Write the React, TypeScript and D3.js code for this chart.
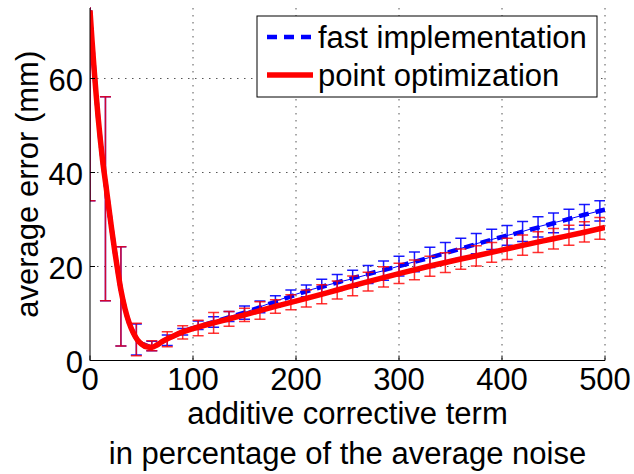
import React from 'react';
import * as d3 from 'd3';

// Positions where the error bars are sampled (percentage of the average noise)
const barX = [0, 15, 30, 45, 60, 75, 90, 105, 120, 135, 150, 165, 180, 195, 210, 225, 240, 255, 270, 285, 300, 315, 330, 345, 360, 375, 390, 405, 420, 435, 450, 465, 480, 495];

// fast implementation: mean error and standard deviation at barX
const fastMean = [74, 34.4, 13.65, 4.45, 3.1, 4.3, 6.1, 7.5, 8.2, 9.35, 10.2, 11.4, 12.6, 13.75, 14.8, 15.7, 16.6, 17.4, 18.3, 19.1, 20.1, 21.0, 21.95, 22.95, 23.85, 24.85, 25.75, 26.6, 27.45, 28.45, 29.3, 30.1, 31.0, 31.85];
const fastSd = [40, 21.7, 10.55, 3.3, 1.0, 1.1, 0.7, 0.9, 1.1, 1.05, 1.4, 1.25, 1.2, 1.25, 1.25, 1.6, 1.7, 1.8, 1.9, 2.05, 2.1, 2.1, 2.15, 2.15, 2.15, 2.15, 2.15, 2.1, 2.15, 2.15, 2.1, 2.1, 2.2, 2.15];

// point optimization: mean error and standard deviation at barX
const pointMean = [74, 34.4, 13.65, 4.45, 3.15, 4.5, 6.0, 6.9, 8.0, 8.85, 9.7, 10.65, 11.5, 12.4, 13.2, 14.1, 15.0, 15.9, 16.8, 17.8, 18.55, 19.3, 20.05, 20.8, 21.55, 22.25, 23.0, 23.75, 24.55, 25.2, 25.9, 26.65, 27.35, 28.1];
const pointSd = [40, 21.7, 10.55, 3.45, 1.05, 1.6, 1.4, 1.65, 2.2, 1.55, 1.4, 1.85, 1.45, 1.6, 1.8, 2.0, 1.9, 2.1, 2.0, 2.15, 2.15, 2.1, 2.15, 2.1, 2.15, 2.15, 2.1, 2.25, 2.15, 2.2, 2.2, 2.15, 2.15, 2.3];

// Finely sampled average-error curves
const curveX = [0, 2, 4, 6, 8, 10, 12, 15, 18, 21, 24, 27, 30, 34, 38, 42, 46, 50, 55, 60, 65, 70, 80, 90, 100, 120, 150, 180, 210, 240, 270, 300, 330, 360, 390, 420, 450, 480, 500];
const fastCurve = [74.5, 68, 62, 56.5, 51.5, 47, 43, 38, 33, 28, 23.3, 19, 15, 11, 8.0, 5.9, 4.4, 3.5, 2.9, 2.8, 3.3, 4.0, 5.1, 6.1, 6.9, 8.2, 10.2, 12.5, 14.7, 16.6, 18.4, 20.1, 21.9, 23.8, 25.7, 27.4, 29.2, 31.0, 32.1];
const pointCurve = [74.5, 68, 62, 56.5, 51.5, 47, 43, 38, 33, 28, 23.3, 19, 15, 11, 8.0, 5.9, 4.4, 3.5, 2.9, 2.8, 3.3, 4.0, 5.1, 6.1, 6.8, 8.0, 9.7, 11.5, 13.2, 15.0, 16.8, 18.5, 20.1, 21.6, 23.0, 24.5, 25.9, 27.3, 28.3];

const xTicks = [0, 100, 200, 300, 400, 500];
const yTicks = [0, 20, 40, 60];

const seriesNames = ['fast implementation', 'point optimization'];
const xTitleLines = ['additive corrective term', 'in percentage of the average noise'];
const yTitle = 'average error (mm)';

const W = 634;
const H = 474;
const left = 90;
const right = 605;
const top = 8;
const bottom = 360.5;
const FONT = '"Liberation Sans", Arial, Helvetica, sans-serif';
const FS = 31;

export default function App() {
  const x = d3.scaleLinear().domain([0, 500]).range([left, right]);
  const y = d3.scaleLinear().domain([0, 75]).range([bottom, top]);

  const smooth = d3
    .line<[number, number]>()
    .x((d) => x(d[0]))
    .y((d) => y(d[1]))
    .curve(d3.curveMonotoneX);
  const straight = d3
    .line<[number, number]>()
    .x((d) => x(d[0]))
    .y((d) => y(d[1]));

  const fastPts = curveX.map((v, i) => [v, fastCurve[i]] as [number, number]);
  const pointPts = curveX.map((v, i) => [v, pointCurve[i]] as [number, number]);
  const fastMeanPts = barX.map((v, i) => [v, fastMean[i]] as [number, number]);
  const pointMeanPts = barX.map((v, i) => [v, pointMean[i]] as [number, number]);

  const cap = 5.5;
  const errorBars = (mean: number[], sd: number[], color: string, opacity: number, key: string) =>
    barX.map((bx, i) => {
      const cx = x(bx);
      const y1 = y(mean[i] + sd[i]);
      const y2 = y(mean[i] - sd[i]);
      return (
        <g key={key + i} stroke={color} strokeWidth={1.5} strokeOpacity={opacity}>
          <line x1={cx} x2={cx} y1={y1} y2={y2} />
          <line x1={cx - cap} x2={cx + cap} y1={y1} y2={y1} />
          <line x1={cx - cap} x2={cx + cap} y1={y2} y2={y2} />
        </g>
      );
    });

  const blue = '#0000ff';
  const red = '#ff0000';
  const dash = '10,7';

  return (
    <svg
      width={W}
      height={H}
      viewBox={`0 0 ${W} ${H}`}
      style={{ position: 'absolute', left: 0, top: 0, background: '#ffffff' }}
      fontFamily={FONT}
    >
      <defs>
        <clipPath id="plot-area">
          <rect x={left} y={top - 1} width={right - left} height={bottom - top + 1} />
        </clipPath>
      </defs>

      {/* dotted grid */}
      <g stroke="#555" strokeWidth={1} strokeDasharray="1.5,5.5">
        {xTicks.filter((t) => t > 0).map((t) => (
          <line key={'gx' + t} x1={x(t)} x2={x(t)} y1={top} y2={bottom} />
        ))}
        {yTicks.filter((t) => t > 0).map((t) => (
          <line key={'gy' + t} x1={left} x2={right} y1={y(t)} y2={y(t)} />
        ))}
      </g>

      <g clipPath="url(#plot-area)" fill="none">
        {/* fast implementation */}
        <path d={straight(fastMeanPts) || ''} stroke={blue} strokeWidth={1} />
        {errorBars(fastMean, fastSd, blue, 0.9, 'fb')}
        <path d={smooth(fastPts) || ''} stroke={blue} strokeWidth={4.5} strokeDasharray={dash} />

        {/* point optimization */}
        <path d={straight(pointMeanPts) || ''} stroke={red} strokeWidth={1} strokeOpacity={0.7} />
        {errorBars(pointMean, pointSd, red, 0.8, 'pb')}
        <path d={smooth(pointPts) || ''} stroke={red} strokeWidth={5.5} strokeLinejoin="round" />
      </g>

      {/* axes */}
      <g stroke="#000" strokeWidth={1}>
        <line x1={left} x2={right} y1={bottom} y2={bottom} />
        <line x1={left} x2={left} y1={top} y2={bottom} />
        {xTicks.map((t) => (
          <line key={'tx' + t} x1={x(t)} x2={x(t)} y1={bottom} y2={bottom - 5} />
        ))}
        {yTicks.map((t) => (
          <line key={'ty' + t} x1={left} x2={left + 5} y1={y(t)} y2={y(t)} />
        ))}
      </g>

      <g fontSize={FS} fill="#000">
        {xTicks.map((t) => (
          <text key={'lx' + t} x={x(t)} y={389.5} textAnchor="middle">
            {t}
          </text>
        ))}
        {yTicks.map((t) => (
          <text key={'ly' + t} x={83} y={y(t) + 12.5} textAnchor="end">
            {t}
          </text>
        ))}
        <text x={(left + right) / 2} y={423.5} textAnchor="middle">
          {xTitleLines[0]}
        </text>
        <text x={(left + right) / 2} y={464} textAnchor="middle">
          {xTitleLines[1]}
        </text>
        <text transform={`translate(38, ${(top + bottom) / 2}) rotate(-90)`} textAnchor="middle">
          {yTitle}
        </text>
      </g>

      {/* legend */}
      <g>
        <rect x={257} y={16} width={340} height={81} fill="#fff" stroke="#000" strokeWidth={1} />
        <line x1={267} x2={313} y1={37} y2={37} stroke={blue} strokeWidth={4.5} strokeDasharray={dash} />
        <line x1={267} x2={313} y1={75} y2={75} stroke={red} strokeWidth={5.5} />
        <text x={318} y={48} fontSize={FS}>
          {seriesNames[0]}
        </text>
        <text x={318} y={86} fontSize={FS}>
          {seriesNames[1]}
        </text>
      </g>
    </svg>
  );
}
